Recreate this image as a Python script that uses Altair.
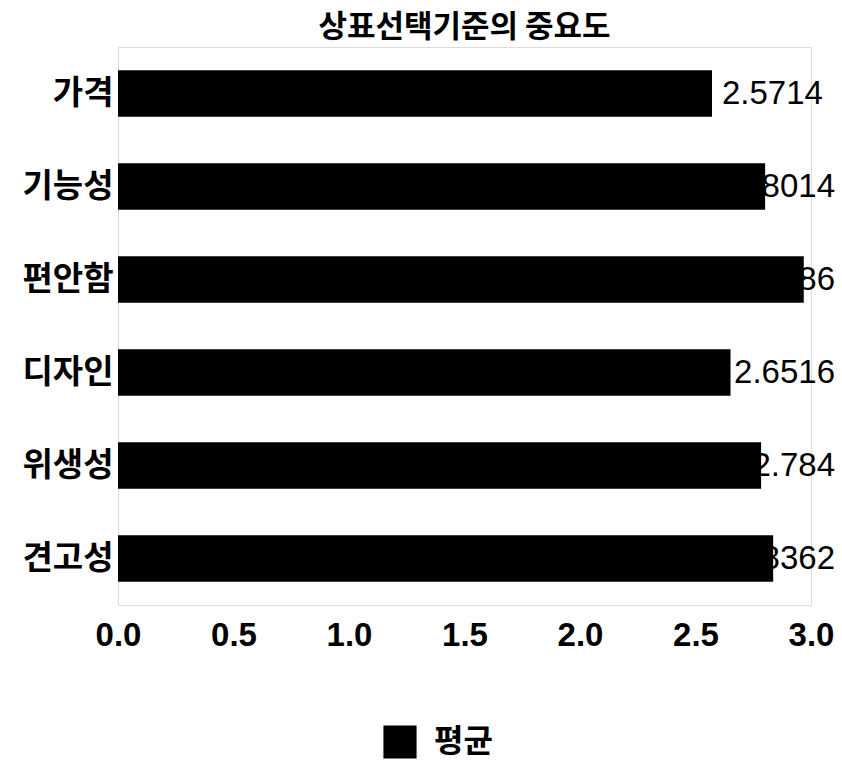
import altair as alt
import pandas as pd

# Importance of brand-selection criteria (mean scores)
categories = ["가격", "기능성", "편안함", "디자인", "위생성", "견고성"]
means = [2.5714, 2.8014, 2.9686, 2.6516, 2.784, 2.8362]
value_labels = ["2.5714", "2.8014", "2.9686", "2.6516", "2.784", "2.8362"]
x_ticks = [0.0, 0.5, 1.0, 1.5, 2.0, 2.5, 3.0]
series_name = "평균"

df = pd.DataFrame({
    "기준": categories,
    "평균값": means,
    "라벨": value_labels,
    "계열": [series_name] * len(categories),
})

W, H = 693, 558
KR = "Noto Sans CJK KR"
NUM = "Liberation Sans"

x_scale = alt.Scale(domain=[0, 3], nice=False, zero=True)
y_scale = alt.Scale(domain=categories, paddingInner=0.5, paddingOuter=0.25)

base = alt.Chart(df)

# value labels sit right of each bar, pushed back inside the right margin
labels = base.transform_calculate(
    label_end="min(datum['평균값'] + 0.48, 3.104)"
).mark_text(
    align="right", baseline="middle", font=NUM, fontSize=33, color="black"
).encode(
    x=alt.X("label_end:Q", scale=x_scale),
    y=alt.Y("기준:N", scale=y_scale),
    text="라벨:N",
)

bars = base.mark_bar(color="black").encode(
    x=alt.X(
        "평균값:Q",
        scale=x_scale,
        axis=alt.Axis(
            title=None, values=x_ticks, format=".1f", ticks=False, domain=False,
            grid=False, labelFont=NUM, labelFontSize=33, labelFontWeight="bold",
            labelColor="black", labelPadding=14, labelFlush=False,
        ),
    ),
    y=alt.Y(
        "기준:N",
        scale=y_scale,
        sort=categories,
        axis=alt.Axis(
            title=None, ticks=False, domain=False, grid=False,
            labelFont=KR, labelFontSize=33, labelFontWeight="bold",
            labelColor="black", labelPadding=5,
        ),
    ),
    color=alt.Color(
        "계열:N",
        scale=alt.Scale(domain=[series_name], range=["black"]),
        legend=alt.Legend(
            title=None, orient="none", legendX=265, legendY=678,
            symbolType="square", symbolSize=1100, symbolStrokeWidth=0,
            labelFont=KR, labelFontSize=32, labelFontWeight="bold",
            labelColor="black", labelOffset=17, padding=0,
        ),
    ),
)

chart = alt.layer(labels, bars).properties(
    width=W,
    height=H,
    title=alt.TitleParams(
        "상표선택기준의 중요도", font=KR, fontSize=31, fontWeight="bold",
        color="black", anchor="middle", offset=3,
    ),
    autosize=alt.AutoSizeParams(type="none"),
    padding={"left": 118, "top": 47, "right": 31, "bottom": 172},
).configure_view(
    stroke="#d0d0d0", strokeWidth=1, strokeDash=[2, 3]
).configure(background="white")

chart.save("out.html", embed_options={"renderer": "svg", "actions": False})
